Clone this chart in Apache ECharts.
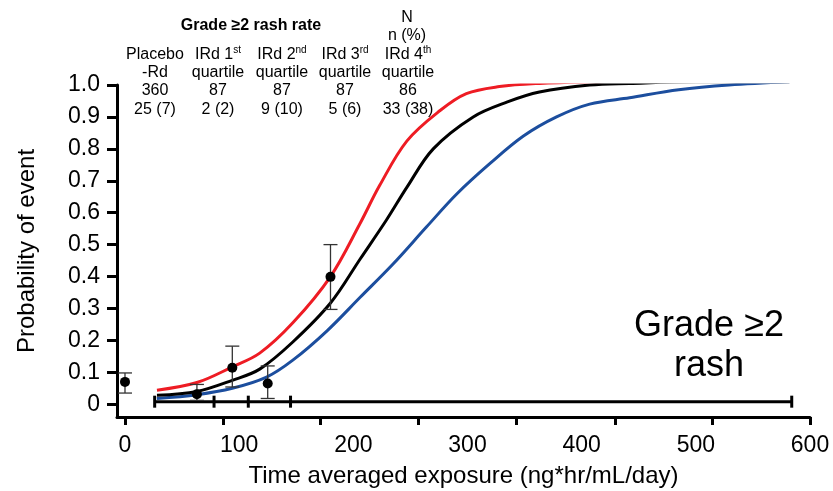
<!DOCTYPE html>
<html>
<head>
<meta charset="utf-8">
<script src="https://cdn.jsdelivr.net/npm/echarts@6/dist/echarts.min.js"></script>
<style>
  html, body { margin: 0; padding: 0; background: #fff; }
  #chart { width: 833px; height: 491px; }
</style>
</head>
<body>
<div id="chart"></div>
<script>
// exposure-response curves (x: ng*hr/mL/day, y: probability)
const redX = [28, 63, 94, 118, 147, 180, 206, 223, 247, 276, 299, 328, 363, 407, 450, 582];
const redY = [0.044, 0.068, 0.117, 0.16, 0.255, 0.40, 0.567, 0.685, 0.825, 0.92, 0.973, 0.995, 1.005, 1.01, 1.012, 1.012];
const blackX = [28, 63, 94, 118, 147, 180, 206, 229, 247, 270, 305, 335, 363, 407, 442, 500, 582];
const blackY = [0.028, 0.04, 0.075, 0.11, 0.195, 0.317, 0.455, 0.577, 0.68, 0.80, 0.90, 0.947, 0.978, 1.0, 1.005, 1.01, 1.01];
const blueX = [28, 63, 94, 124, 147, 177, 206, 235, 264, 291, 320, 349, 378, 407, 442, 485, 529, 582];
const blueY = [0.018, 0.03, 0.05, 0.085, 0.138, 0.23, 0.335, 0.44, 0.555, 0.66, 0.755, 0.84, 0.90, 0.94, 0.96, 0.985, 1.0, 1.01];

// observed rates with error bars
const obsX = [0, 63, 94, 125, 180];
const obsY = [0.07, 0.031, 0.114, 0.065, 0.399];
const obsLo = [0.035, 0.012, 0.054, 0.018, 0.297];
const obsHi = [0.098, 0.062, 0.182, 0.12, 0.50];

// exposure range / quartile boundaries
const rugX = [26, 78, 108, 145, 584];
const rugY = 0.008;

// header table
const groupLabel = ['Placebo', 'IRd 1', 'IRd 2', 'IRd 3', 'IRd 4'];
const groupSup = ['', 'st', 'nd', 'rd', 'th'];
const groupSub = ['-Rd', 'quartile', 'quartile', 'quartile', 'quartile'];
const groupN = ['360', '87', '87', '87', '86'];
const groupEvents = ['25 (7)', '2 (2)', '9 (10)', '5 (6)', '33 (38)'];
const groupCenter = [155, 218, 282, 345, 408];

// axis ticks and labels
const xLabels = [0, 100, 200, 300, 400, 500, 600];
const xTicks = [0, 86, 171, 257, 343, 429, 514, 600];
const yTicks = [0, 0.1, 0.2, 0.3, 0.4, 0.5, 0.6, 0.7, 0.8, 0.9, 1.0];

const FONT = 'Arial, "Liberation Sans", sans-serif';

const zip = (xs, ys) => xs.map((x, i) => [x, ys[i]]);

const headerTexts = groupLabel.map((g, i) => ({
  type: 'text',
  x: groupCenter[i],
  y: 45,
  style: {
    text: '{a|' + g + '}' + (groupSup[i] ? '{s|' + groupSup[i] + '}' : '') +
      '\n{a|' + groupSub[i] + '}\n{a|' + groupN[i] + '}\n{a|' + groupEvents[i] + '}',
    align: 'center',
    verticalAlign: 'top',
    rich: {
      a: { fontSize: 16, fontFamily: FONT, lineHeight: 18.4, fill: '#000', align: 'center' },
      s: { fontSize: 10, fontFamily: FONT, lineHeight: 18.4, verticalAlign: 'top', fill: '#000' }
    }
  }
}));

const option = {
  animation: false,
  backgroundColor: '#fff',
  grid: { left: 117, right: 23, top: 85, bottom: 74, containLabel: false, outerBoundsMode: 'none' },
  xAxis: {
    type: 'value',
    min: -7,
    max: 600,
    name: 'Time averaged exposure (ng*hr/mL/day)',
    nameLocation: 'middle',
    nameGap: 47,
    nameTextStyle: { fontSize: 24, fontFamily: FONT, color: '#000' },
    axisLine: { onZero: false, lineStyle: { color: '#000', width: 3 } },
    axisTick: { customValues: xTicks, length: 8, lineStyle: { color: '#000', width: 3 } },
    axisLabel: { customValues: xLabels, margin: 17, fontSize: 23, fontFamily: FONT, color: '#000' },
    splitLine: { show: false }
  },
  yAxis: {
    type: 'value',
    min: -0.04,
    max: 1.0,
    name: 'Probability of event',
    nameLocation: 'middle',
    nameGap: 78,
    nameTextStyle: { fontSize: 24, fontFamily: FONT, color: '#000' },
    axisLine: { show: true, onZero: false, lineStyle: { color: '#000', width: 3 } },
    axisTick: { show: true, customValues: yTicks, length: 10, lineStyle: { color: '#000', width: 3 } },
    axisLabel: {
      customValues: yTicks, margin: 17, fontSize: 23, fontFamily: FONT, color: '#000',
      formatter: v => (v === 0 ? '0' : v.toFixed(1))
    },
    splitLine: { show: false }
  },
  graphic: [
    {
      type: 'text', x: 251, y: 26,
      style: {
        text: 'Grade \u22652 rash rate', align: 'center', verticalAlign: 'middle',
        fontSize: 16, fontWeight: 'bold', fontFamily: FONT, fill: '#000'
      }
    },
    {
      type: 'text', x: 407, y: 8,
      style: {
        text: 'N\nn (%)', align: 'center', verticalAlign: 'top',
        fontSize: 16, lineHeight: 18.4, fontFamily: FONT, fill: '#000'
      }
    },
    ...headerTexts,
    {
      type: 'text', x: 709, y: 346,
      style: {
        text: 'Grade \u22652\nrash', align: 'center', verticalAlign: 'middle',
        fontSize: 36, lineHeight: 40, fontFamily: FONT, fill: '#000'
      }
    }
  ],
  series: [
    {
      type: 'line', data: zip(blueX, blueY), smooth: 0.35, showSymbol: false,
      lineStyle: { color: '#1c4e9e', width: 3 }, z: 2
    },
    {
      type: 'line', data: zip(redX, redY), smooth: 0.35, showSymbol: false,
      lineStyle: { color: '#ee1c24', width: 3 }, z: 2
    },
    {
      type: 'line', data: zip(blackX, blackY), smooth: 0.35, showSymbol: false,
      lineStyle: { color: '#000', width: 3 }, z: 3
    },
    {
      type: 'line', data: [[rugX[0], rugY], [rugX[rugX.length - 1], rugY]], showSymbol: false,
      lineStyle: { color: '#000', width: 3 }, z: 3
    },
    {
      type: 'scatter', data: rugX.map(x => [x, rugY]), symbol: 'rect', symbolSize: [3, 12],
      itemStyle: { color: '#000', opacity: 1 }, z: 3
    },
    {
      type: 'custom',
      data: obsX.map((x, i) => [x, obsY[i], obsLo[i], obsHi[i]]),
      renderItem: (params, api) => {
        const lo = api.coord([api.value(0), api.value(2)]);
        const hi = api.coord([api.value(0), api.value(3)]);
        const w = 7;
        const st = { stroke: '#333', lineWidth: 1.3 };
        return {
          type: 'group',
          children: [
            { type: 'line', shape: { x1: lo[0], y1: lo[1], x2: hi[0], y2: hi[1] }, style: st },
            { type: 'line', shape: { x1: lo[0] - w, y1: lo[1], x2: lo[0] + w, y2: lo[1] }, style: st },
            { type: 'line', shape: { x1: hi[0] - w, y1: hi[1], x2: hi[0] + w, y2: hi[1] }, style: st }
          ]
        };
      },
      z: 4
    },
    {
      type: 'scatter', data: zip(obsX, obsY), symbolSize: 10,
      itemStyle: { color: '#000', opacity: 1 }, z: 5
    }
  ]
};

const chart = echarts.init(document.getElementById('chart'));
chart.setOption(option);
</script>
</body>
</html>
